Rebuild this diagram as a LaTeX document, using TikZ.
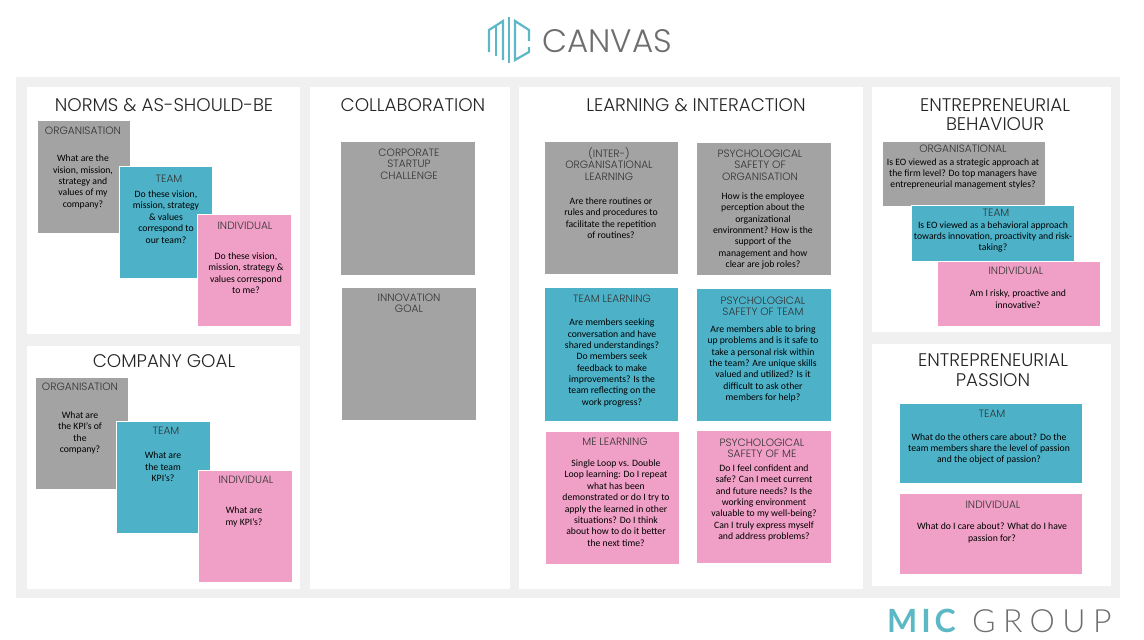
\documentclass[tikz,border=0pt]{standalone}
\usepackage{fontspec}
\setmainfont{Carlito}
\newfontfamily\headfont{Poppins Light}
\newfontfamily\micfont[LetterSpace=12]{Lato}
\newfontfamily\groupfont[LetterSpace=23]{Lato Light}
\definecolor{panelgray}{HTML}{F0F0F0}
\definecolor{cardgray}{HTML}{A3A3A3}
\definecolor{cardteal}{HTML}{4DB2C8}
\definecolor{cardpink}{HTML}{F0A0C6}
\definecolor{logoteal}{HTML}{5BB8C4}
\definecolor{logogray}{HTML}{6E6E6E}
\tikzset{
    panel/.style={fill=white, inner sep=0pt, outer sep=0pt, anchor=north west},
    card/.style={draw=white, line width=0.4pt, inner sep=0pt, outer sep=0pt, anchor=north west},
    title/.style={text=black!85, align=center, inner sep=0pt, font=\headfont\fontsize{18.3}{19.5}\selectfont},
    label/.style={text=black!80, align=center, inner sep=0pt, font=\headfont\fontsize{10.6}{11.3}\selectfont},
    body/.style={text=black, align=center, inner sep=0pt, font=\fontsize{9.7}{11.35}\selectfont}
}
\begin{document}
\begin{tikzpicture}[x=1pt, y=-1pt]
    \useasboundingbox (0, 0) rectangle (1144, 640);
    \fill[panelgray] (16, 77) rectangle (1120, 598);

    \node[panel, minimum width=273pt, minimum height=247pt] (normspanel) at (27, 87) {};
    \node[panel, minimum width=273pt, minimum height=243pt] (goalpanel) at (27, 346) {};
    \node[panel, minimum width=200pt, minimum height=502pt] (collabpanel) at (310, 87) {};
    \node[panel, minimum width=344pt, minimum height=502pt] (learnpanel) at (519, 87) {};
    \node[panel, minimum width=239pt, minimum height=245pt] (behavpanel) at (872, 87) {};
    \node[panel, minimum width=239pt, minimum height=242pt] (passionpanel) at (872, 344) {};

    \draw[logoteal, line width=2.2pt] (489, 52) -- (489, 30) -- (503, 21) -- (503, 60);
    \draw[logoteal, line width=2.2pt] (496, 26) -- (496, 56);
    \draw[logoteal, line width=2.2pt] (509, 17) -- (509, 63);
    \draw[logoteal, line width=2.2pt] (529, 41) -- (529, 30) -- (515, 21) -- (515, 60) -- (529, 52) -- (529, 47);
    \node[text=logogray, inner sep=0pt, font=\headfont\fontsize{32.5}{34}\selectfont] (canvastext) at (607, 41) {CANVAS};
    \node[text=logogray, inner sep=0pt, anchor=base west, font=\groupfont\fontsize{32}{34}\selectfont] (grouptext) at (972, 632) {GROUP};
    \node[text=logoteal, inner sep=0pt, anchor=base west, font=\micfont\bfseries\fontsize{32}{34}\selectfont] (mictext) at (887, 632) {MIC};

    \node[title] (normstitle) at (164, 105) {NORMS \& AS-SHOULD-BE};
    \node[title] (goaltitle) at (164, 361) {COMPANY GOAL};
    \node[title] (collabtitle) at (413, 105) {COLLABORATION};
    \node[title] (learntitle) at (696, 105) {LEARNING \& INTERACTION};
    \node[title] (behavtitle) at (995, 114.5) {ENTREPRENEURIAL\\BEHAVIOUR};
    \node[title] (passiontitle) at (993, 370) {ENTREPRENEURIAL\\PASSION};

    \node[card, fill=cardgray, minimum width=93pt, minimum height=113pt] (normsorg) at (37, 120.5) {};
    \node[card, fill=cardteal, minimum width=93pt, minimum height=112pt] (normsteam) at (119, 166.5) {};
    \node[card, fill=cardpink, minimum width=94pt, minimum height=112pt] (normsind) at (197.5, 214) {};
    \node[label] (normsorglabel) at (83, 131) {ORGANISATION};
    \node[body] (normsorgbody) at (83, 182) {What are the\\vision, mission,\\strategy and\\values of my\\company?};
    \node[label] (normsteamlabel) at (169, 179) {TEAM};
    \node[body] (normsteambody) at (166, 217) {Do these vision,\\mission, strategy\\\& values\\correspond to\\our team?};
    \node[label] (normsindlabel) at (245, 226) {INDIVIDUAL};
    \node[body] (normsindbody) at (246, 273) {Do these vision,\\mission, strategy \&\\values correspond\\to me?};

    \node[card, fill=cardgray, minimum width=93pt, minimum height=112pt] (goalorg) at (35.5, 377) {};
    \node[card, fill=cardteal, minimum width=94pt, minimum height=112pt] (goalteam) at (116, 421) {};
    \node[card, fill=cardpink, minimum width=94pt, minimum height=112pt] (goalind) at (198, 470) {};
    \node[label] (goalorglabel) at (80, 387) {ORGANISATION};
    \node[body] (goalorgbody) at (80, 433) {What are\\the KPI’s of\\the\\company?};
    \node[label] (goalteamlabel) at (166, 431) {TEAM};
    \node[body] (goalteambody) at (163, 467) {What are\\the team\\KPI’s?};
    \node[label] (goalindlabel) at (246, 480) {INDIVIDUAL};
    \node[body] (goalindbody) at (244, 517) {What are\\my KPI’s?};

    \node[card, fill=cardgray, minimum width=135pt, minimum height=134pt] (startupcard) at (340, 141) {};
    \node[card, fill=cardgray, minimum width=135pt, minimum height=133pt] (innovcard) at (341, 287) {};
    \node[label] (startuplabel) at (409, 164) {CORPORATE\\STARTUP\\CHALLENGE};
    \node[label] (innovlabel) at (409, 303) {INNOVATION\\GOAL};

    \node[card, fill=cardgray, minimum width=134pt, minimum height=133pt] (learnorg) at (544, 141) {};
    \node[card, fill=cardgray, minimum width=135pt, minimum height=133pt] (safeorg) at (696, 142.5) {};
    \node[card, fill=cardteal, minimum width=134pt, minimum height=134pt] (learnteam) at (544, 287) {};
    \node[card, fill=cardteal, minimum width=135pt, minimum height=133pt] (safeteam) at (696, 288) {};
    \node[card, fill=cardpink, minimum width=134pt, minimum height=133pt] (learnme) at (545, 431) {};
    \node[card, fill=cardpink, minimum width=135pt, minimum height=133pt] (safeme) at (696, 430.5) {};
    \node[label] (learnorglabel) at (609, 164) {(INTER-)\\ORGANISATIONAL\\LEARNING};
    \node[body] (learnorgbody) at (611, 218) {Are there routines or\\rules and procedures to\\facilitate the repetition\\of routines?};
    \node[label] (safeorglabel) at (760, 165) {PSYCHOLOGICAL\\SAFETY OF\\ORGANISATION};
    \node[body] (safeorgbody) at (763, 231) {How is the employee\\perception about the\\organizational\\environment? How is the\\support of the\\management and how\\clear are job roles?};
    \node[label] (learnteamlabel) at (612, 299) {TEAM LEARNING};
    \node[body] (learnteambody) at (612, 363) {Are members seeking\\conversation and have\\shared understandings?\\Do members seek\\feedback to make\\improvements? Is the\\team reflecting on the\\work progress?};
    \node[label] (safeteamlabel) at (763, 306) {PSYCHOLOGICAL\\SAFETY OF TEAM};
    \node[body] (safeteambody) at (763, 364) {Are members able to bring\\up problems and is it safe to\\take a personal risk within\\the team? Are unique skills\\valued and utilized? Is it\\difficult to ask other\\members for help?};
    \node[label] (learnmelabel) at (615, 442) {ME LEARNING};
    \node[body] (learnmebody) at (616, 503) {Single Loop vs. Double\\Loop learning: Do I repeat\\what has been\\demonstrated or do I try to\\apply the learned in other\\situations? Do I think\\about how to do it better\\the next time?};
    \node[label] (safemelabel) at (762, 448) {PSYCHOLOGICAL\\SAFETY OF ME};
    \node[body] (safemebody) at (764, 503) {Do I feel confident and\\safe? Can I meet current\\and future needs? Is the\\working environment\\valuable to my well-being?\\Can I truly express myself\\and address problems?};

    \node[card, fill=cardgray, minimum width=163pt, minimum height=65pt] (behavorg) at (882, 141) {};
    \node[card, fill=cardteal, minimum width=163pt, minimum height=56pt] (behavteam) at (911, 205) {};
    \node[card, fill=cardpink, minimum width=163pt, minimum height=65pt] (behavind) at (937, 261) {};
    \node[label] (behavorglabel) at (963, 149) {ORGANISATIONAL};
    \node[body] (behavorgbody) at (963, 174) {Is EO viewed as a strategic approach at\\the firm level? Do top managers have\\entrepreneurial management styles?};
    \node[label] (behavteamlabel) at (996, 213) {TEAM};
    \node[body] (behavteambody) at (993, 237) {Is EO viewed as a behavioral approach\\towards innovation, proactivity and risk-\\taking?};
    \node[label] (behavindlabel) at (1016, 271) {INDIVIDUAL};
    \node[body] (behavindbody) at (1018, 299) {Am I risky, proactive and\\innovative?};

    \node[card, fill=cardteal, minimum width=183pt, minimum height=80pt] (passionteam) at (899.5, 403) {};
    \node[card, fill=cardpink, minimum width=183pt, minimum height=81pt] (passionind) at (899, 493) {};
    \node[label] (passionteamlabel) at (992, 414) {TEAM};
    \node[body] (passionteambody) at (989, 449) {What do the others care about? Do the\\team members share the level of passion\\and the object of passion?};
    \node[label] (passionindlabel) at (993, 505) {INDIVIDUAL};
    \node[body] (passionindbody) at (992, 533) {What do I care about? What do I have\\passion for?};
\end{tikzpicture}
\end{document}
